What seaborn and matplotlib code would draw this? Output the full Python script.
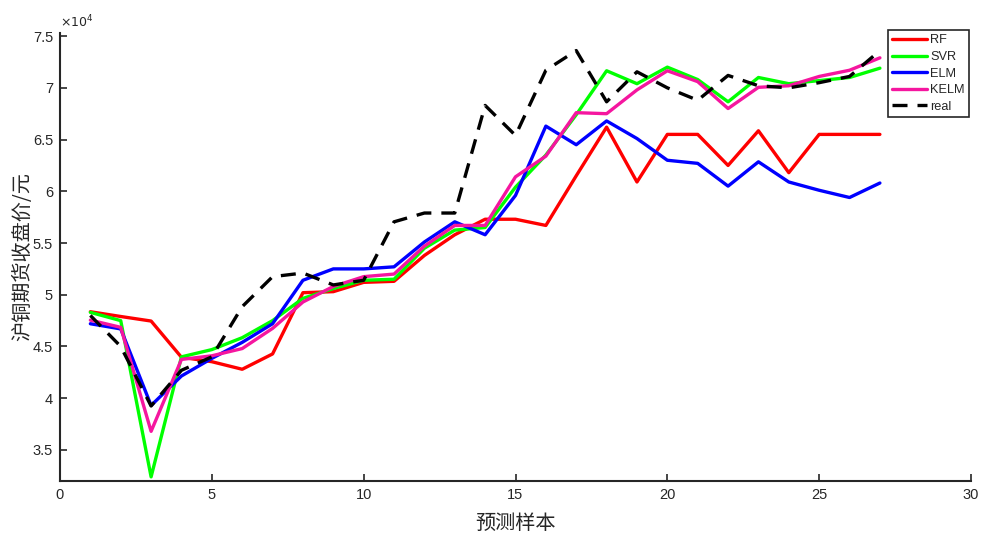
import numpy as np
import pandas as pd
import matplotlib
matplotlib.use("Agg")
import matplotlib.pyplot as plt
from matplotlib.ticker import FuncFormatter, FixedLocator
import seaborn as sns

samples = list(range(1, 28))
rf = [48360, 47900, 47460, 43960, 43530, 42800, 44280, 50200, 50300, 51200, 51300,
      53800, 55800, 57300, 57300, 56700, 61500, 66200, 60900, 65500, 65500, 62500,
      65850, 61800, 65500, 65500, 65500]
svr = [48300, 47500, 32400, 44000, 44700, 45850, 47500, 49650, 50600, 51400, 51500,
       54500, 56250, 56500, 60400, 63500, 67400, 71650, 70400, 72000, 70800, 68650,
       71000, 70400, 70700, 71000, 71900]
elm = [47200, 46700, 39300, 42150, 43850, 45400, 47200, 51400, 52500, 52500, 52700,
       55100, 57050, 55800, 59600, 66300, 64500, 66800, 65100, 63000, 62700, 60500,
       62850, 60900, 60100, 59400, 60800]
kelm = [47550, 46850, 36800, 43750, 44100, 44800, 46750, 49300, 50800, 51750, 52000,
        54700, 56700, 56700, 61400, 63400, 67600, 67500, 69800, 71650, 70600, 68000,
        70050, 70200, 71100, 71700, 72900]
real = [48000, 45000, 39250, 42700, 44000, 48850, 51750, 52100, 50950, 51400, 57050,
        57900, 57900, 68300, 65400, 71700, 73600, 68650, 71550, 70000, 68800, 71200,
        70200, 70000, 70500, 71100, 73600]

series_names = ["RF", "SVR", "ELM", "KELM", "real"]
series_vals = [rf, svr, elm, kelm, real]
colors = ["#FF0000", "#00FF00", "#0000FF", "#F5169F", "#000000"]

x_ticks = [0, 5, 10, 15, 20, 25, 30]
y_ticks = [35000, 40000, 45000, 50000, 55000, 60000, 65000, 70000, 75000]

sns.set_style("ticks")
plt.rcParams["font.family"] = ["Liberation Sans", "Noto Sans CJK SC", "DejaVu Sans"]

fig = plt.figure(figsize=(9.83, 5.33), dpi=100)
ax = fig.add_axes([60 / 983, 1 - 481 / 533, (971 - 60) / 983, (481 - 33) / 533])

for name, vals, c in zip(series_names, series_vals, colors):
    df = pd.DataFrame({"x": samples, "y": vals})
    if name == "real":
        sns.lineplot(data=df, x="x", y="y", ax=ax, color=c, lw=2.4, label=name,
                     linestyle=(0, (4.5, 3.0)))
    else:
        sns.lineplot(data=df, x="x", y="y", ax=ax, color=c, lw=2.4, label=name)

ax.set_xlim(0, 30)
ax.set_ylim(32000, 75300)
ax.xaxis.set_major_locator(FixedLocator(x_ticks))
ax.yaxis.set_major_locator(FixedLocator(y_ticks))
ax.yaxis.set_major_formatter(FuncFormatter(lambda v, p: f"{v / 1e4:g}"))
ax.tick_params(direction="in", length=5, width=1.2, colors="#262626",
               labelsize=10.5, labelcolor="#262626", pad=5)
for s in ["top", "right"]:
    ax.spines[s].set_visible(False)
for s in ["left", "bottom"]:
    ax.spines[s].set_linewidth(1.5)
    ax.spines[s].set_color("#262626")

ax.set_xlabel("预测样本", fontsize=14.5, family=["Noto Sans CJK SC", "DejaVu Sans"],
              color="#262626", labelpad=8)
ax.set_ylabel("沪铜期货收盘价/元", fontsize=14.5, family=["Noto Sans CJK SC", "DejaVu Sans"],
              color="#262626", labelpad=0)

ax.text(0.0, 1.005, r"$\times10^4$", transform=ax.transAxes, fontsize=9,
        color="#262626", ha="left", va="bottom")

leg = ax.legend(loc="upper right", bbox_to_anchor=(969 / 983, 1 - 30 / 533),
                bbox_transform=fig.transFigure, fontsize=9.2, frameon=True,
                fancybox=False, edgecolor="#262626", framealpha=1,
                handlelength=2.75, handletextpad=0.2, borderpad=0.35,
                labelspacing=0.36, borderaxespad=0)
leg.get_frame().set_linewidth(1.2)

fig.savefig("out.png", dpi=100)
